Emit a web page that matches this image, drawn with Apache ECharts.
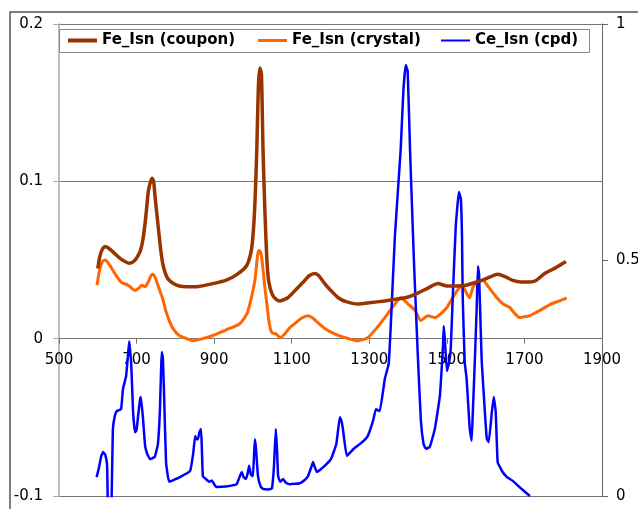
<!DOCTYPE html>
<html>
<head>
<meta charset="utf-8">
<script src="https://cdn.jsdelivr.net/npm/echarts@6/dist/echarts.min.js"></script>
<style>
  html, body { margin: 0; padding: 0; background: #fff; }
  #chart { width: 638px; height: 509px; }
</style>
</head>
<body>
<div id="chart"></div>
<script>
  // Fe_Isn (coupon) - left axis
  const couponX = [600, 605, 612, 619, 628, 640, 655, 670, 680, 692, 701, 710, 717, 724, 730, 735, 740, 744, 747, 752, 758, 763, 768, 775, 781, 795, 810, 830, 860, 897, 930, 960, 984, 995, 1000, 1005, 1010, 1014, 1018, 1022, 1026, 1031, 1036, 1041, 1050, 1060, 1070, 1090, 1110, 1130, 1145, 1160, 1170, 1185, 1201, 1220, 1240, 1271, 1300, 1340, 1381, 1400, 1425, 1450, 1477, 1500, 1528, 1550, 1577, 1600, 1631, 1650, 1670, 1691, 1714, 1730, 1752, 1780, 1807];
  const couponY = [0.0446, 0.052, 0.057, 0.0586, 0.0575, 0.055, 0.0515, 0.049, 0.048, 0.049, 0.0516, 0.056, 0.064, 0.078, 0.093, 0.099, 0.102, 0.1, 0.092, 0.08, 0.066, 0.055, 0.047, 0.041, 0.038, 0.035, 0.0335, 0.033, 0.0332, 0.035, 0.037, 0.041, 0.0465, 0.055, 0.065, 0.085, 0.12, 0.16, 0.172, 0.168, 0.12, 0.08, 0.05, 0.036, 0.028, 0.025, 0.024, 0.026, 0.031, 0.036, 0.04, 0.0414, 0.04, 0.035, 0.0306, 0.026, 0.0235, 0.022, 0.0228, 0.024, 0.0255, 0.0265, 0.029, 0.032, 0.035, 0.0335, 0.0335, 0.034, 0.036, 0.038, 0.041, 0.0395, 0.037, 0.036, 0.036, 0.037, 0.0414, 0.045, 0.049];

  // Fe_Isn (crystal) - left axis
  const crystalX = [598, 605, 612, 619, 630, 645, 660, 678, 688, 696, 705, 714, 722, 730, 737, 742, 748, 755, 762, 768, 775, 785, 794, 810, 830, 846, 870, 897, 930, 966, 985, 995, 1005, 1012, 1016, 1021, 1026, 1031, 1036, 1042, 1049, 1060, 1070, 1082, 1095, 1110, 1125, 1142, 1155, 1168, 1185, 1211, 1240, 1271, 1296, 1320, 1340, 1360, 1381, 1400, 1418, 1433, 1451, 1469, 1485, 1500, 1515, 1528, 1539, 1551, 1559, 1567, 1580, 1593, 1610, 1629, 1645, 1662, 1675, 1688, 1700, 1714, 1740, 1768, 1790, 1809];
  const crystalY = [0.034, 0.044, 0.049, 0.05, 0.047, 0.041, 0.036, 0.034, 0.032, 0.0306, 0.032, 0.034, 0.033, 0.036, 0.04, 0.041, 0.039, 0.034, 0.029, 0.025, 0.018, 0.011, 0.0064, 0.002, 0.0, -0.0013, 0.0, 0.002, 0.0055, 0.0095, 0.016, 0.025, 0.037, 0.053, 0.056, 0.054, 0.044, 0.032, 0.022, 0.01, 0.0038, 0.003, 0.0006, 0.003, 0.007, 0.01, 0.013, 0.0146, 0.013, 0.01, 0.0065, 0.003, 0.0005, -0.0013, 0.0006, 0.007, 0.0134, 0.02, 0.026, 0.022, 0.018, 0.0115, 0.0146, 0.0134, 0.016, 0.0198, 0.026, 0.031, 0.034, 0.0287, 0.026, 0.0325, 0.036, 0.037, 0.032, 0.026, 0.022, 0.0198, 0.016, 0.0134, 0.014, 0.0146, 0.018, 0.022, 0.024, 0.026];

  // Ce_Isn (cpd) - right axis
  const cpdX = [597, 603, 609, 614, 619, 624, 627, 634, 639, 644, 649, 660, 665, 673, 678, 681, 686, 691, 696, 700, 704, 709, 711, 716, 722, 728, 735, 747, 755, 760, 765, 768, 771, 776, 784, 812, 838, 846, 851, 855, 858, 862, 866, 868, 871, 880, 888, 894, 900, 906, 930, 958, 971, 976, 982, 987, 990, 995, 1000, 1003, 1005, 1008, 1013, 1020, 1026, 1040, 1049, 1054, 1059, 1062, 1065, 1070, 1078, 1085, 1095, 1121, 1135, 1142, 1150, 1155, 1160, 1165, 1180, 1201, 1215, 1224, 1228, 1232, 1242, 1260, 1280, 1296, 1310, 1317, 1327, 1340, 1350, 1355, 1366, 1381, 1388, 1394, 1399, 1405, 1415, 1425, 1433, 1440, 1446, 1456, 1469, 1482, 1490, 1492, 1495, 1500, 1505, 1510, 1515, 1523, 1531, 1536, 1539, 1541, 1546, 1551, 1559, 1564, 1567, 1572, 1577, 1580, 1583, 1588, 1590, 1598, 1603, 1608, 1616, 1621, 1626, 1631, 1642, 1655, 1670, 1690, 1714];
  const cpdY = [0.04, 0.06, 0.085, 0.093, 0.088, 0.065, -0.05, -0.05, 0.142, 0.17, 0.18, 0.184, 0.227, 0.254, 0.3, 0.328, 0.284, 0.178, 0.135, 0.14, 0.17, 0.205, 0.21, 0.17, 0.106, 0.088, 0.078, 0.083, 0.11, 0.178, 0.305, 0.29, 0.212, 0.072, 0.03, 0.04, 0.053, 0.09, 0.127, 0.12, 0.12, 0.135, 0.142, 0.11, 0.042, 0.035, 0.03, 0.033, 0.025, 0.019, 0.02, 0.025, 0.051, 0.04, 0.036, 0.05, 0.064, 0.045, 0.042, 0.09, 0.12, 0.1, 0.042, 0.02, 0.015, 0.014, 0.016, 0.06, 0.142, 0.1, 0.042, 0.03, 0.036, 0.028, 0.025, 0.027, 0.035, 0.042, 0.06, 0.072, 0.06, 0.051, 0.06, 0.078, 0.11, 0.167, 0.16, 0.142, 0.085, 0.1, 0.113, 0.127, 0.16, 0.184, 0.18, 0.248, 0.28, 0.354, 0.55, 0.735, 0.86, 0.913, 0.9, 0.735, 0.5, 0.3, 0.16, 0.11, 0.1, 0.104, 0.142, 0.212, 0.318, 0.36, 0.33, 0.265, 0.28, 0.311, 0.417, 0.572, 0.644, 0.63, 0.551, 0.417, 0.284, 0.248, 0.142, 0.117, 0.178, 0.284, 0.4, 0.487, 0.47, 0.333, 0.284, 0.178, 0.121, 0.114, 0.178, 0.21, 0.178, 0.072, 0.053, 0.04, 0.032, 0.017, 0];

  const seriesNames = ["Fe_Isn (coupon)", "Fe_Isn (crystal)", "Ce_Isn (cpd)"];

  const pair = (xs, ys) => xs.map((x, i) => [x, ys[i]]);

  const font = "DejaVu Sans";
  const axisLabel = { color: "#000", fontFamily: font, fontSize: 15, formatter: (v) => String(+v.toFixed(2)) };

  // plot box in px
  const gTop = 24, gBottom = 496;
  const leftMin = -0.1, leftMax = 0.2;
  // x axis sits on the zero line of the left axis
  const zeroOffset = -((0 - leftMin) / (leftMax - leftMin)) * (gBottom - gTop);

  const legendItem = (name, left, h) => ({
    data: [name],
    left: left,
    top: 33,
    padding: 0,
    icon: "rect",
    itemWidth: 29,
    itemHeight: h,
    selectedMode: false,
    textStyle: { color: "#000", fontFamily: font, fontSize: 15, fontWeight: "bold" },
  });

  const myChart = echarts.init(document.getElementById("chart"), null, { renderer: "canvas" });
  const option = {
    animation: false,
    backgroundColor: "#fff",
    grid: { left: 59, right: 36, top: gTop, bottom: 509 - gBottom, containLabel: false, outerBoundsMode: "none" },
    graphic: [
      // outer chart frame
      { type: "rect", z: 0, shape: { x: 10, y: 12, width: 700, height: 600 }, style: { fill: null, stroke: "#555", lineWidth: 1.5 } },
      // legend box
      { type: "rect", z: 3, shape: { x: 59.5, y: 29.5, width: 530, height: 23 }, style: { fill: "#fff", stroke: "#888", lineWidth: 1 } },
    ],
    legend: [
      legendItem(seriesNames[0], 68, 4),
      legendItem(seriesNames[1], 258, 3),
      legendItem(seriesNames[2], 441, 2),
    ],
    tooltip: { show: false },
    xAxis: {
      type: "value",
      min: 500,
      max: 1900,
      interval: 200,
      position: "bottom",
      offset: zeroOffset,
      axisLine: { onZero: false, lineStyle: { color: "#777", width: 1 } },
      axisTick: { show: true, length: 5, lineStyle: { color: "#777" } },
      axisLabel: { ...axisLabel, margin: 14 },
      splitLine: { show: false },
    },
    yAxis: [
      {
        type: "value",
        position: "left",
        min: leftMin,
        max: leftMax,
        interval: 0.1,
        axisLine: { show: true, onZero: false, lineStyle: { color: "#aaa", width: 1.5 } },
        axisTick: { show: true, length: 6, lineStyle: { color: "#aaa" } },
        axisLabel: { ...axisLabel, margin: 16 },
        splitLine: { show: true, lineStyle: { color: "#777", width: 1 } },
      },
      {
        type: "value",
        position: "right",
        min: 0,
        max: 1,
        interval: 0.5,
        axisLine: { show: true, onZero: false, lineStyle: { color: "#666", width: 1 } },
        axisTick: { show: true, length: 6, lineStyle: { color: "#666" } },
        axisLabel: { ...axisLabel, margin: 14 },
        splitLine: { show: false },
      },
    ],
    series: [
      {
        name: seriesNames[0],
        type: "line",
        yAxisIndex: 0,
        data: pair(couponX, couponY),
        showSymbol: false,
        smooth: 0.2,
        color: "#993300",
        lineStyle: { width: 3.5, color: "#993300" },
        z: 3,
      },
      {
        name: seriesNames[1],
        type: "line",
        yAxisIndex: 0,
        data: pair(crystalX, crystalY),
        showSymbol: false,
        smooth: 0.2,
        color: "#FF6600",
        lineStyle: { width: 3, color: "#FF6600" },
        z: 2,
      },
      {
        name: seriesNames[2],
        type: "line",
        yAxisIndex: 1,
        data: pair(cpdX, cpdY),
        showSymbol: false,
        smooth: 0.1,
        clip: true,
        color: "#0000FF",
        lineStyle: { width: 2.5, color: "#0000FF" },
        z: 2,
      },
    ],
  };
  myChart.setOption(option);
</script>
</body>
</html>
